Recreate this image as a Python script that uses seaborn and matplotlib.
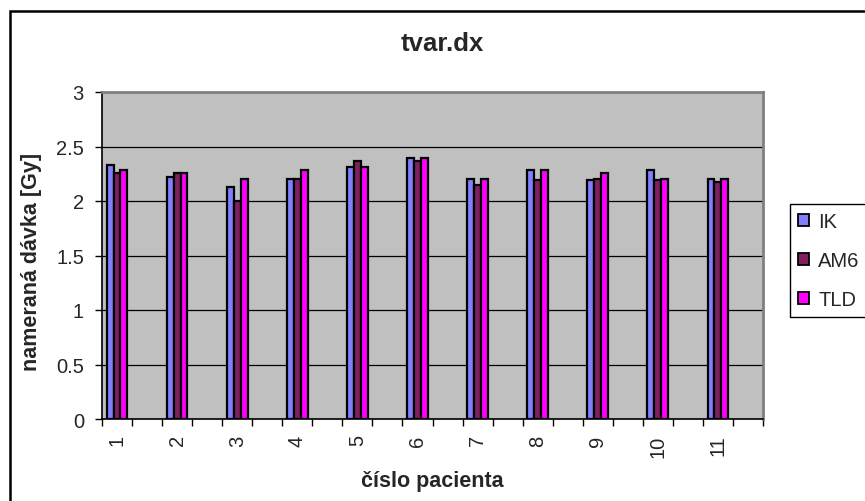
import matplotlib
matplotlib.use("Agg")
import matplotlib.pyplot as plt
from matplotlib.patches import Patch, Rectangle
import numpy as np
import pandas as pd
import seaborn as sns

# Measured dose per patient for each dosimeter [Gy]
patients = ["1", "2", "3", "4", "5", "6", "7", "8", "9", "10", "11"]
ik = [2.33, 2.22, 2.13, 2.20, 2.31, 2.39, 2.20, 2.28, 2.19, 2.28, 2.20]
am6 = [2.26, 2.26, 2.00, 2.20, 2.37, 2.37, 2.15, 2.19, 2.20, 2.19, 2.17]
tld = [2.28, 2.26, 2.20, 2.28, 2.31, 2.39, 2.20, 2.28, 2.26, 2.20, 2.20]
series = ["IK", "AM6", "TLD"]
colors = ["#8080FF", "#802060", "#FF00FF"]
y_ticks = [0, 0.5, 1, 1.5, 2, 2.5, 3]
y_tick_labels = ["0", "0.5", "1", "1.5", "2", "2.5", "3"]

sns.set_style("white")
plt.rcParams["font.family"] = ["Liberation Sans", "DejaVu Sans"]

df = pd.DataFrame({
    "patient": patients * 3,
    "series": np.repeat(series, len(patients)),
    "dose": ik + am6 + tld,
})

# every patient is followed by an empty slot on the category axis
order = []
for i, p in enumerate(patients):
    order += [p, " " * (i + 1)]

W, H = 865, 502
fig = plt.figure(figsize=(W / 100, H / 100), dpi=100)
ax = fig.add_axes([102 / W, 1 - 420 / H, 661 / W, 327 / H])

sns.barplot(data=df, x="patient", y="dose", hue="series", order=order,
            hue_order=series, palette=colors, width=0.69, dodge=True,
            edgecolor="black", linewidth=1.6, saturation=1, errorbar=None,
            legend=False, ax=ax)

ax.set_facecolor("#C0C0C0")
ax.set_axisbelow(True)
ax.set_ylim(0, 3)
ax.set_xlim(-0.5, len(order) - 0.5)
ax.set_yticks(y_ticks, y_tick_labels)
ax.yaxis.grid(True, color="black", linewidth=0.9)
ax.xaxis.grid(False)

# boundary ticks between slots, labels centred under the patient slots
ax.set_xticks(np.arange(-0.5, len(order) + 0.5, 1.0))
ax.set_xticklabels([])
label_pos = np.arange(0, len(order), 2)
ax.set_xticks(label_pos, minor=True)
ax.set_xticklabels(patients, minor=True, rotation=90, fontsize=14.5,
                   va="top", ha="center")
ax.tick_params(axis="x", which="major", length=5, width=1, color="black",
               direction="out", bottom=True)
ax.tick_params(axis="x", which="minor", length=0, pad=11)
ax.tick_params(axis="y", length=5, width=1, color="black", direction="out",
               left=True, labelsize=14.5, pad=8)
ax.set_xlabel("")
ax.set_ylabel("")

for side in ["left", "bottom"]:
    ax.spines[side].set_color("black")
    ax.spines[side].set_linewidth(1.2)
for side in ["top", "right"]:
    ax.spines[side].set_visible(True)
    ax.spines[side].set_color("#808080")
    ax.spines[side].set_linewidth(2)

fig.text(442 / W, 1 - 44 / H, "tvar.dx", ha="center", va="center",
         fontsize=18.5, fontweight="bold")
fig.text(432 / W, 1 - 482 / H, "číslo pacienta", ha="center", va="center",
         fontsize=15.5, fontweight="bold")
fig.text(31 / W, 1 - 262 / H, "nameraná dávka [Gy]", ha="center",
         va="center", rotation=90, fontsize=15.5, fontweight="bold")

handles = [Patch(facecolor=c, edgecolor="black", linewidth=1.3, label=s)
           for c, s in zip(colors, series)]
leg = fig.legend(handles=handles, loc="upper left",
                 bbox_to_anchor=(790 / W, 1 - 205 / H), fontsize=14.5,
                 frameon=True, fancybox=False, shadow=False,
                 handlelength=0.55, handleheight=0.55, handletextpad=0.45,
                 labelspacing=1.0, borderpad=0.4, borderaxespad=0)
leg.get_frame().set_edgecolor("black")
leg.get_frame().set_linewidth(1)
leg.get_frame().set_alpha(1)

# outer chart border (runs off the right and bottom edges)
fig.add_artist(Rectangle((10 / W, -0.1), 1.2, 1.1 - 12 / H,
                         transform=fig.transFigure, fill=False,
                         edgecolor="black", linewidth=1.8, clip_on=False))

fig.savefig("out.png", dpi=100)
